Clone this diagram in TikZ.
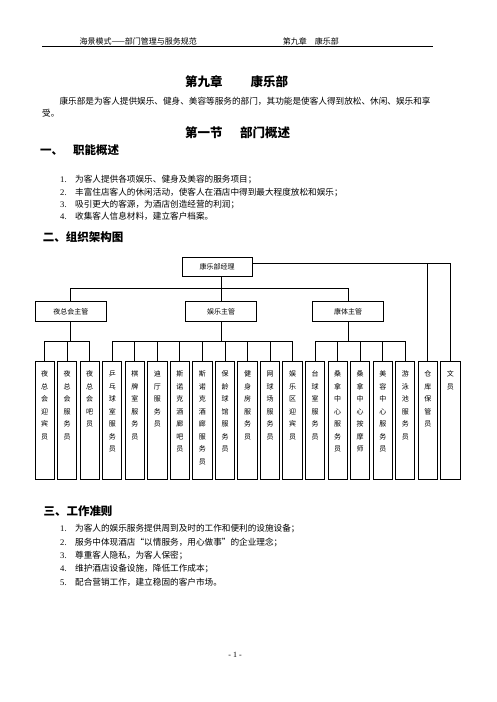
\documentclass[tikz,border=0pt]{standalone}
\usepackage{fontspec}
\setmainfont{Noto Sans CJK SC}
\newfontfamily\latin{Liberation Serif}
\newcommand\col[1]{\parbox[c][118.3pt][t]{19.3pt}{\fontsize{7}{12.5}\selectfont\centering\vspace*{10pt}#1}}
\newcommand\itm[1]{\makebox[15pt][l]{\latin#1.}}
\begin{document}
\begin{tikzpicture}[x=1pt,y=-1pt,
    box/.style={draw,line width=1pt,minimum width=71,minimum height=20,inner sep=0,font=\fontsize{7}{8}\selectfont},
    staff/.style={draw,line width=1pt,inner sep=0},
    link/.style={line width=1pt},
    body/.style={anchor=west,inner sep=0,font=\fontsize{8.63}{10}\selectfont},
    head/.style={anchor=west,inner sep=0,font=\fontsize{11.5}{12}\selectfont\bfseries},
    title/.style={inner sep=0,font=\fontsize{12.5}{13}\selectfont\bfseries},
    small/.style={anchor=west,inner sep=0,font=\fontsize{8}{9}\selectfont}]
\useasboundingbox(0,0)rectangle(496,702);

\node(h1)at(79.3,41)[small]{海景模式——部门管理与服务规范};
\node(h2)at(282.7,41)[small]{第九章\hspace{8pt}康乐部};
\draw[line width=0.9pt](42,46)--(433,46);

\node(t1)at(236.7,81.7)[title]{第九章\hspace{28pt}康乐部};
\node(p1)at(59.3,101.7)[body]{康乐部是为客人提供娱乐、健身、美容等服务的部门，其功能是使客人得到放松、休闲、娱乐和享};
\node(p2)at(42,113.3)[body]{受。};
\node(t2)at(237.5,132.7)[title]{第一节\hspace{17.5pt}部门概述};

\node(s1)at(40,150)[head]{一、\hspace{10pt}职能概述};
\node(a1)at(60,180)[body]{\itm{1}为客人提供各项娱乐、健身及美容的服务项目；};
\node(a2)at(60,192.3)[body]{\itm{2}丰富住店客人的休闲活动，使客人在酒店中得到最大程度放松和娱乐；};
\node(a3)at(60,204.5)[body]{\itm{3}吸引更大的客源，为酒店创造经营的利润；};
\node(a4)at(60,216.7)[body]{\itm{4}收集客人信息材料，建立客户档案。};

\node(s2)at(42.7,236.7)[head]{二、组织架构图};

\node(0)at(217,266.5)[box,minimum width=70,minimum height=19]{康乐部经理};
\node(1)at(70.8,311.7)[box]{夜总会主管};
\node(2)at(221.2,311.7)[box]{娱乐主管};
\node(3)at(348,311.7)[box]{康体主管};

\node(4)at(44.7,420.2)[staff]{\col{夜\\总\\会\\迎\\宾\\员}};
\node(5)at(67.2,420.2)[staff]{\col{夜\\总\\会\\服\\务\\员}};
\node(6)at(89.7,420.2)[staff]{\col{夜\\总\\会\\吧\\员}};
\node(7)at(112.3,420.2)[staff]{\col{乒\\乓\\球\\室\\服\\务\\员}};
\node(8)at(134.8,420.2)[staff]{\col{棋\\牌\\室\\服\\务\\员}};
\node(9)at(157.4,420.2)[staff]{\col{迪\\厅\\服\\务\\员}};
\node(10)at(179.9,420.2)[staff]{\col{斯\\诺\\克\\酒\\廊\\吧\\员}};
\node(11)at(202.4,420.2)[staff]{\col{斯\\诺\\克\\酒\\廊\\服\\务\\员}};
\node(12)at(225,420.2)[staff]{\col{保\\龄\\球\\馆\\服\\务\\员}};
\node(13)at(247.5,420.2)[staff]{\col{健\\身\\房\\服\\务\\员}};
\node(14)at(270.1,420.2)[staff]{\col{网\\球\\场\\服\\务\\员}};
\node(15)at(292.6,420.2)[staff]{\col{娱\\乐\\区\\迎\\宾\\员}};
\node(16)at(315.2,420.2)[staff]{\col{台\\球\\室\\服\\务\\员}};
\node(17)at(337.7,420.2)[staff]{\col{桑\\拿\\中\\心\\服\\务\\员}};
\node(18)at(360.2,420.2)[staff]{\col{桑\\拿\\中\\心\\按\\摩\\师}};
\node(19)at(382.8,420.2)[staff]{\col{美\\容\\中\\心\\服\\务\\员}};
\node(20)at(405.3,420.2)[staff]{\col{游\\泳\\池\\服\\务\\员}};
\node(21)at(427.9,420.2)[staff]{\col{仓\\库\\保\\管\\员}};
\node(22)at(450.4,420.2)[staff]{\col{文\\员}};

\draw[link](2.north)--(2.north|-0.south);
\draw[link](1.north)--++(0,-12.4)-|(3.north);
\draw[link]([yshift=3pt]0.east)-|(21.north);
\draw[link]([yshift=3pt]0.east)-|(22.north);

\draw[link](1.south)--++(0,20);
\draw[link](4.north)--++(0,-19.3)-|(6.north);
\draw[link](5.north)--++(0,-19.3);

\draw[link](2.south)--++(0,20);
\draw[link](7.north)--++(0,-19.3)-|(15.north);
\draw[link](8.north)--++(0,-19.3);
\draw[link](9.north)--++(0,-19.3);
\draw[link](10.north)--++(0,-19.3);
\draw[link](11.north)--++(0,-19.3);
\draw[link](12.north)--++(0,-19.3);
\draw[link](13.north)--++(0,-19.3);
\draw[link](14.north)--++(0,-19.3);

\draw[link](3.south)--++(0,20);
\draw[link](16.north)--++(0,-19.3)-|(20.north);
\draw[link](17.north)--++(0,-19.3);
\draw[link](18.north)--++(0,-19.3);
\draw[link](19.north)--++(0,-19.3);

\node(s3)at(43.3,511)[head]{三、工作准则};
\node(b1)at(60,529)[body]{\itm{1}为客人的娱乐服务提供周到及时的工作和便利的设施设备；};
\node(b2)at(60,542.3)[body]{\itm{2}服务中体现酒店“以情服务，用心做事”的企业理念；};
\node(b3)at(60,555.5)[body]{\itm{3}尊重客人隐私，为客人保密；};
\node(b4)at(60,568.7)[body]{\itm{4}维护酒店设备设施，降低工作成本；};
\node(b5)at(60,582)[body]{\itm{5}配合营销工作，建立稳固的客户市场。};

\node(pg)at(235,655)[inner sep=0,font=\latin\fontsize{8}{9}\selectfont]{- 1 -};
\end{tikzpicture}
\end{document}
